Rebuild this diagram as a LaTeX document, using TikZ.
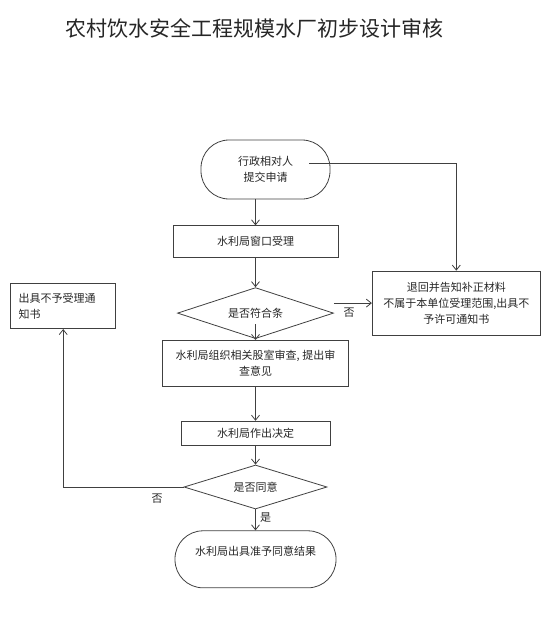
\documentclass[tikz,border=0pt]{standalone}
\usepackage{fontspec}
\newfontfamily\cjk{Noto Sans CJK SC}
\usetikzlibrary{arrows.meta,positioning,shapes.geometric}

\begin{document}
\begin{tikzpicture}[
    x=1pt, y=-1pt,
    every node/.style={font=\cjk\fontsize{11}{16}\selectfont, text=black!85},
    box/.style={rectangle, draw=black!75, line width=0.8pt, align=center},
    term/.style={rectangle, draw=black!75, line width=0.8pt, rounded corners=28pt, align=center},
    choice/.style={diamond, draw=black!75, line width=0.8pt, inner sep=0pt, shape aspect=3},
    arr/.style={-{Straight Barb[length=5pt,width=8pt]}, line width=0.8pt, black!75},
]
\useasboundingbox (0,0) rectangle (553,623);

% Title
\node[anchor=west, font=\cjk\fontsize{21}{21}\selectfont] (title) at (62,28) {农村饮水安全工程规模水厂初步设计审核};

% Main column
\node[term, minimum width=129pt, minimum height=59pt] (start) at (265.5,169.5) {行政相对人\\提交申请};
\node[box, minimum width=165pt, minimum height=32pt, below=26pt of start, xshift=-10pt] (accept) {水利局窗口受理};
\node[choice, minimum width=156pt, minimum height=51pt, below=29pt of accept] (check) {是否符合条};
\node[box, minimum width=186pt, minimum height=46pt, below=1pt of check] (review) {水利局组织相关股室审查, 提出审\\查意见};
\node[box, minimum width=149pt, minimum height=24pt, below=34pt of review] (decide) {水利局作出决定};
\node[choice, minimum width=143pt, minimum height=44pt, below=19pt of decide] (agree) {是否同意};
\node[term, minimum width=161pt, minimum height=57pt, below=21pt of agree] (result) {水利局出具准予同意结果\\\mbox{}};

% Side boxes
\node[box, minimum width=168pt, minimum height=64pt, right=38pt of check, yshift=10pt] (back) {退回并告知补正材料\\不属于本单位受理范围,出具不\\予许可通知书};
\node[box, minimum width=105pt, minimum height=45pt, align=left, text width=89pt, inner xsep=8pt,
      left=61pt of check, yshift=7pt] (refuse) {出具不予受理通\\知书};

% Arrows down the column
\draw[arr] (start.south -| accept.north) -- (accept.north);
\draw[arr] (accept.south) -- (check.north);
\draw[arr] ([yshift=15pt]check.south) -- (review.north);
\draw[arr] (review.south) -- (decide.north);
\draw[arr] (decide.south) -- (agree.north);
\draw[arr] (agree.south) -- (result.north) node[pos=0.4, right=1pt] {是};

% Branches
\draw[arr] ([shift={(-21pt,6pt)}]start.east) -| (back.north);
\draw[arr] (check.east |- back.west) -- (back.west) node[pos=0.4, below=1pt] {否};
\draw[arr] (agree.west) -| (refuse.south) node[pos=0.11, below=3pt] {否};

\end{tikzpicture}
\end{document}
